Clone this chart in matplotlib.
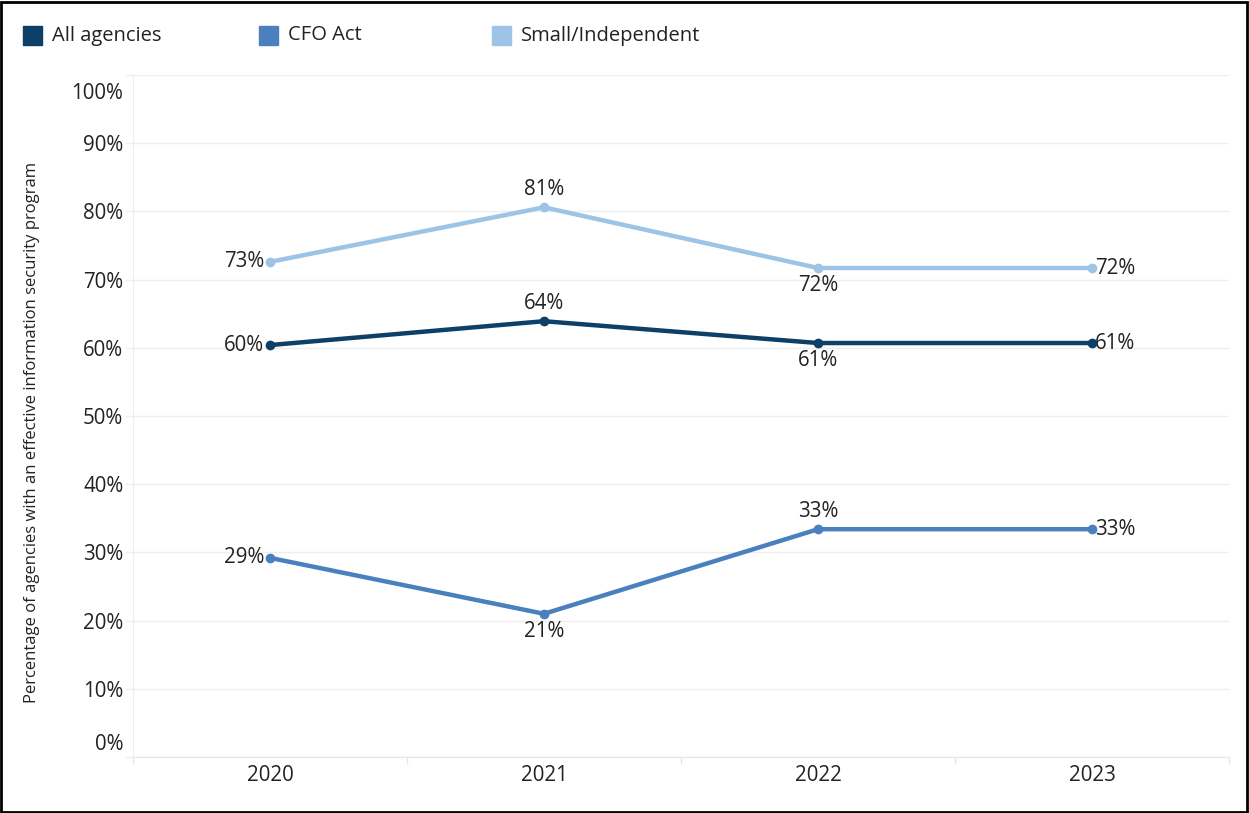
import matplotlib
matplotlib.use("Agg")
import matplotlib.pyplot as plt
import matplotlib.transforms as mtransforms
from matplotlib.patches import Rectangle

years = ["2020", "2021", "2022", "2023"]
all_agencies = [60.4, 63.9, 60.7, 60.7]
cfo_act = [29.2, 21.0, 33.4, 33.4]
small_indep = [72.6, 80.6, 71.7, 71.7]
series_names = ["All agencies", "CFO Act", "Small/Independent"]
yticks = [0, 10, 20, 30, 40, 50, 60, 70, 80, 90, 100]

colors = ["#0E3F66", "#4A80BD", "#9DC3E6"]
# label placement per point: left, above, below, right
places = {
    0: ["left", "above", "below", "right"],
    1: ["left", "below", "above", "right"],
    2: ["left", "above", "below", "right"],
}

plt.rcParams['font.family'] = ['Open Sans', 'DejaVu Sans']
NUM_FS = 14.8
W, H = 1249, 813
fig = plt.figure(figsize=(W / 100, H / 100), dpi=100)
L, R, T, B = 133, 1229, 75, 757
ax = fig.add_axes([L / W, 1 - B / H, (R - L) / W, (B - T) / H])

data = [all_agencies, cfo_act, small_indep]
x = list(range(len(years)))
for i, (vals, c) in enumerate(zip(data, colors)):
    ax.plot(x, vals, color=c, lw=3.2, marker='o', ms=6, zorder=3 + (2 - i) * 0.1)
    for xi, v, p in zip(x, vals, places[i]):
        s = f"{round(v)}%"
        kw = dict(textcoords='offset points', fontsize=NUM_FS, color='#222222')
        if p == "left":
            ax.annotate(s, (xi, v), xytext=(-4, 0), ha='right', va='center', **kw)
        elif p == "right":
            ax.annotate(s, (xi, v), xytext=(2, 0), ha='left', va='center', **kw)
        elif p == "above":
            ax.annotate(s, (xi, v), xytext=(0, 5), ha='center', va='bottom', **kw)
        else:
            ax.annotate(s, (xi, v), xytext=(0, -5), ha='center', va='top', **kw)

ax.set_xlim(-0.5, 3.5)
ax.set_ylim(0, 100)
ax.set_yticks(yticks)
ax.set_yticklabels([f"{t}%" for t in yticks])
ax.set_xticks(x)
ax.set_xticklabels(years)
ax.set_xticks([-0.5, 0.5, 1.5, 2.5, 3.5], minor=True)
ax.tick_params(axis='x', which='major', length=0, pad=6, labelsize=NUM_FS, labelcolor='#222222')
ax.tick_params(axis='x', which='minor', length=5, color='#E6E6E6', width=1)
ax.tick_params(axis='y', length=6, color='#EEEEEE', width=1, pad=1, labelsize=NUM_FS, labelcolor='#222222')
ax.grid(axis='y', color='#EEEEEE', lw=1)
ax.set_axisbelow(True)
for side in ['top', 'right']:
    ax.spines[side].set_visible(False)
ax.spines['left'].set_color('#EEEEEE')
ax.spines['bottom'].set_color('#E6E6E6')

# shift the extreme labels inward as in the reference
ylabels = ax.get_yticklabels()
ylabels[-1].set_transform(ylabels[-1].get_transform() +
                          mtransforms.ScaledTranslation(0, -16 / 100, fig.dpi_scale_trans))
ylabels[0].set_transform(ylabels[0].get_transform() +
                         mtransforms.ScaledTranslation(0, 15 / 100, fig.dpi_scale_trans))

fig.text(32 / W, 1 - 432 / H,
         "Percentage of agencies with an effective information security program",
         rotation=90, ha='center', va='center', fontsize=12, color='#222222')

# legend
leg_x = [23, 259, 492]
for lx, name, c in zip(leg_x, series_names, colors):
    fig.patches.append(Rectangle((lx / W, 1 - 45 / H), 19 / W, 19 / H,
                                 transform=fig.transFigure, color=c))
    fig.text((lx + 29) / W, 1 - 35.5 / H, name, ha='left', va='center',
             fontsize=14.5, color='#222222')

# outer border
fig.patches.append(Rectangle((1 / W, 1 / H), (W - 3) / W, (H - 3) / H,
                             transform=fig.transFigure, fill=False,
                             edgecolor='black', lw=2))

fig.savefig("out.png", dpi=100)
